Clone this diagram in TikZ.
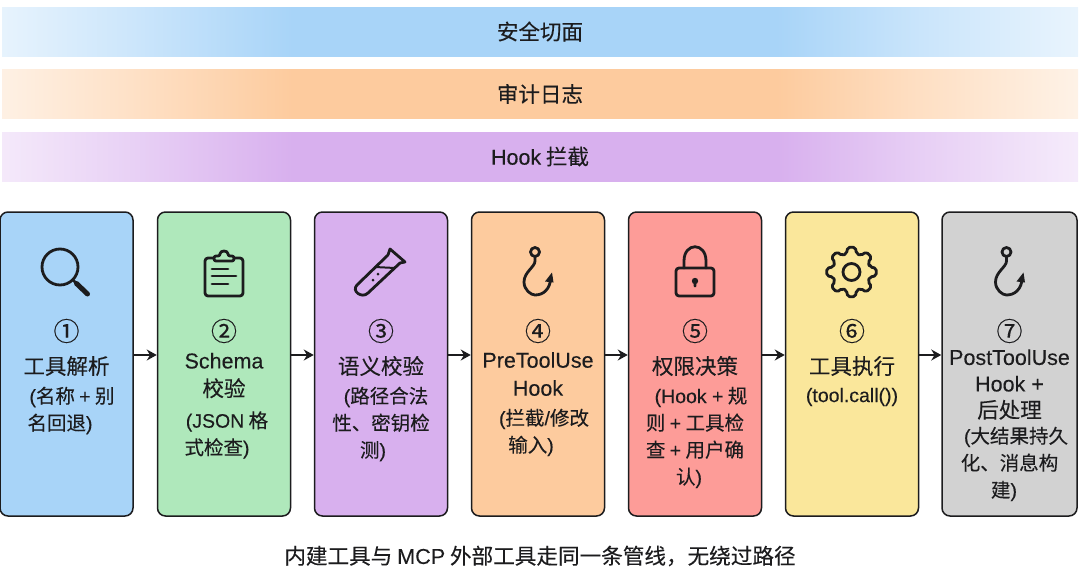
\documentclass[tikz,border=0pt]{standalone}
\usepackage{fontspec}
\setmainfont{Noto Sans CJK SC}[FakeBold=0.2]
\newfontfamily\latinfont{Liberation Sans}[FakeBold=0.15]
\usepackage{xcolor}
\usetikzlibrary{
  arrows.meta,
  calc
}
\definecolor{inkdark}{HTML}{1C1C1E}
\definecolor{fillblue}{HTML}{A8D4F8}
\definecolor{fillgreen}{HTML}{AFE8BB}
\definecolor{fillpurple}{HTML}{D8B0EE}
\definecolor{fillorange}{HTML}{FDCB9E}
\definecolor{fillred}{HTML}{FD9C98}
\definecolor{fillyellow}{HTML}{FAE79B}
\definecolor{fillgray}{HTML}{D2D2D2}
% the path covers only 25bp to 75bp of these shadings
\pgfdeclarehorizontalshading{bandblue}{100bp}{
  color(0bp)=(fillblue!28!white); color(25bp)=(fillblue!28!white); color(31bp)=(fillblue!58!white); color(38.5bp)=(fillblue);
  color(61bp)=(fillblue); color(67.5bp)=(fillblue!62!white); color(75bp)=(fillblue!25!white); color(100bp)=(fillblue!25!white)}
\pgfdeclarehorizontalshading{bandorange}{100bp}{
  color(0bp)=(fillorange!28!white); color(25bp)=(fillorange!28!white); color(31bp)=(fillorange!58!white); color(38.5bp)=(fillorange);
  color(61bp)=(fillorange); color(67.5bp)=(fillorange!62!white); color(75bp)=(fillorange!25!white); color(100bp)=(fillorange!25!white)}
\pgfdeclarehorizontalshading{bandpurple}{100bp}{
  color(0bp)=(fillpurple!28!white); color(25bp)=(fillpurple!28!white); color(31bp)=(fillpurple!58!white); color(38.5bp)=(fillpurple);
  color(61bp)=(fillpurple); color(67.5bp)=(fillpurple!62!white); color(75bp)=(fillpurple!25!white); color(100bp)=(fillpurple!25!white)}
\newcommand{\sr}[1]{\hspace*{#1pt}}
\newcommand{\la}[1]{{\latinfont #1}}
\tikzset{
  >={Stealth[length=10pt,width=11pt]},
  band/.style={minimum width=1076pt,minimum height=49pt,inner sep=0pt,text=inkdark,font=\fontsize{21.5}{24}\selectfont},
  stagebox/.style={draw=inkdark,line width=1.5pt,rounded corners=8pt,minimum width=133pt,minimum height=304pt,inner sep=0pt},
  stagenum/.style={text=inkdark,inner sep=0pt,font=\fontsize{26}{28}\selectfont},
  stagetitle/.style={text=inkdark,inner sep=0pt,align=center,font=\fontsize{21.5}{28}\selectfont},
  stagenote/.style={text=inkdark,inner sep=0pt,align=center,font=\fontsize{19.5}{27}\selectfont},
  flow/.style={->,draw=inkdark,line width=1.5pt},
  icon/.style={draw=inkdark,line width=2.8pt,line cap=round,line join=round},
  pics/magnifier/.style={code={
    \draw[icon] (-6.5,-5) circle (18);
    \draw[icon] (6.5,8) -- (10,11.5);
    \draw[icon,line width=5pt] (10,11.5) -- (21,22);
  }},
  pics/clipboard/.style={code={
    \draw[icon,rounded corners=3pt] (-10,-14) -- (-19,-14) -- (-19,24) -- (19,24) -- (19,-14) -- (10,-14);
    \draw[icon,rounded corners=2pt] (-10,-11) -- (-10,-16) -- (-4,-16) .. controls (-4,-22) and (4,-22) .. (4,-16) -- (10,-16) -- (10,-11) -- cycle;
    \draw[icon] (-12,-3) -- (4,-3);
    \draw[icon] (-12,4) -- (12,4);
    \draw[icon] (-12,12) -- (4,12);
  }},
  pics/tube/.style={code={
    \draw[icon] (7,-17) -- (-24,13) .. controls (-30,19) and (-19,27) .. (-13,21) -- (19,-9);
    \draw[icon] (7,-17) -- (9,-23) -- (24,-10) -- (19,-9);
    \draw[icon,line width=2pt] (-6,-5) -- (14,-4);
    \fill[inkdark] (-3,2) circle (1.5);
    \fill[inkdark] (-8,8) circle (1.5);
  }},
  pics/hook/.style={code={
    \draw[icon] (-3,-20) circle (4.5);
    \draw[icon] (-3,-15.5) -- (-3,-11) .. controls (-3,-5) and (-14,0) .. (-14,10)
      .. controls (-14,18) and (-7,23) .. (-3,23)
      .. controls (5,23) and (12,18) .. (13,5);
    \fill[inkdark] (14,0.5) -- (15.5,10.5) -- (7,9.5) -- cycle;
  }},
  pics/padlock/.style={code={
    \draw[icon] (-11,-4) -- (-11,-11) .. controls (-11,-30) and (11,-30) .. (11,-11) -- (11,-4);
    \draw[icon,rounded corners=3pt] (-19,-4) rectangle (19,24);
    \fill[inkdark] (0,9) circle (3.2);
    \fill[inkdark] (-1.5,9) -- (1.5,9) -- (1.2,15) -- (-1.2,15) -- cycle;
  }},
  pics/gear/.style={code={
    \draw[icon,rounded corners=2pt] (-15:19)
      \foreach \a in {0,45,...,315} { -- ({\a-15}:19) -- ({\a-9}:25) -- ({\a+9}:25) -- ({\a+15}:19) } -- cycle;
    \draw[icon] (0,0) circle (8.5);
  }}
}
\begin{document}
\begin{tikzpicture}[x=1pt,y=-1pt]
	\useasboundingbox (0,0) rectangle (1080,573);
	% cross-cutting bands
	\node[band,shading=bandblue] (secband) at (540,31.5) {安全切面};
	\node[band,shading=bandorange] (auditband) at (540,94) {审计日志};
	\node[band,shading=bandpurple] (hookband) at (540,156.5) {\la{Hook} 拦截};
	% pipeline stages
	\node[stagebox,fill=fillblue] (b1) at (66.5,364) {};
	\node[stagebox,fill=fillgreen] (b2) at (224,364) {};
	\node[stagebox,fill=fillpurple] (b3) at (381,364) {};
	\node[stagebox,fill=fillorange] (b4) at (538,364) {};
	\node[stagebox,fill=fillred] (b5) at (695,364) {};
	\node[stagebox,fill=fillyellow] (b6) at (852,364) {};
	\node[stagebox,fill=fillgray,minimum width=135pt] (b7) at (1009.5,364) {};
	\foreach \i/\j in {1/2,2/3,3/4,4/5,5/6,6/7}
		\draw[flow] ([yshift=9pt]b\i.east) -- ([yshift=9pt]b\j.west);
	% icons
	\pic at (66.5,272) {magnifier};
	\pic at (224,272) {clipboard};
	\pic at (381,272) {tube};
	\pic at (538,272) {hook};
	\pic at (695,272) {padlock};
	\pic at (851.5,272) {gear};
	\pic at (1009.5,272) {hook};
	% numbers
	\node[stagenum] (n1) at (66.5,331) {①};
	\node[stagenum] (n2) at (224,331) {②};
	\node[stagenum] (n3) at (381,331) {③};
	\node[stagenum] (n4) at (538,331) {④};
	\node[stagenum] (n5) at (695,331) {⑤};
	\node[stagenum] (n6) at (852,331) {⑥};
	\node[stagenum] (n7) at (1009.5,331) {⑦};
	% titles
	\node[stagetitle] (t1) at (66.5,366) {工具解析};
	\node[stagetitle] (t2) at (224,375.5) {\la{Schema}\\校验};
	\node[stagetitle] (t3) at (381,366) {语义校验};
	\node[stagetitle] (t4) at (538,374) {\la{PreToolUse}\\\la{Hook}};
	\node[stagetitle] (t5) at (695,366) {权限决策};
	\node[stagetitle] (t6) at (852,366) {工具执行};
	\node[stagetitle,font=\fontsize{21.5}{26.5}\selectfont] (t7) at (1009.5,384.5) {\la{PostToolUse}\\\la{Hook +}\\后处理};
	% notes
	\node[stagenote] (d1) at (66.5,410.5) {\sr{11}\la{(}名称 \la{+} 别\\名回退\la{)}\sr{13}};
	\node[stagenote] (d2) at (224,435) {\sr{6}\la{(JSON} 格\\式检查\la{)}\sr{14}};
	\node[stagenote] (d3) at (381,424) {\sr{10}\la{(}路径合法\\性、密钥检\\测\la{)}\sr{16}};
	\node[stagenote] (d4) at (538,432.5) {\sr{12}\la{(}拦截\la{/}修改\\输入\la{)}\sr{14}};
	\node[stagenote] (d5) at (695,437.5) {\sr{12}\la{(Hook +} 规\\则 \la{+} 工具检\\查 \la{+} 用户确\\认\la{)}\sr{12}};
	\node[stagenote] (d6) at (852,397) {\la{(tool.call())}};
	\node[stagenote] (d7) at (1009.5,464) {\sr{13}\la{(}大结果持久\\化、消息构\\建\la{)}\sr{11}};
	% caption
	\node[text=inkdark,inner sep=0pt,font=\fontsize{21.6}{26}\selectfont] (caption) at (540,556) {内建工具与 \la{MCP} 外部工具走同一条管线，无绕过路径};
\end{tikzpicture}
\end{document}
